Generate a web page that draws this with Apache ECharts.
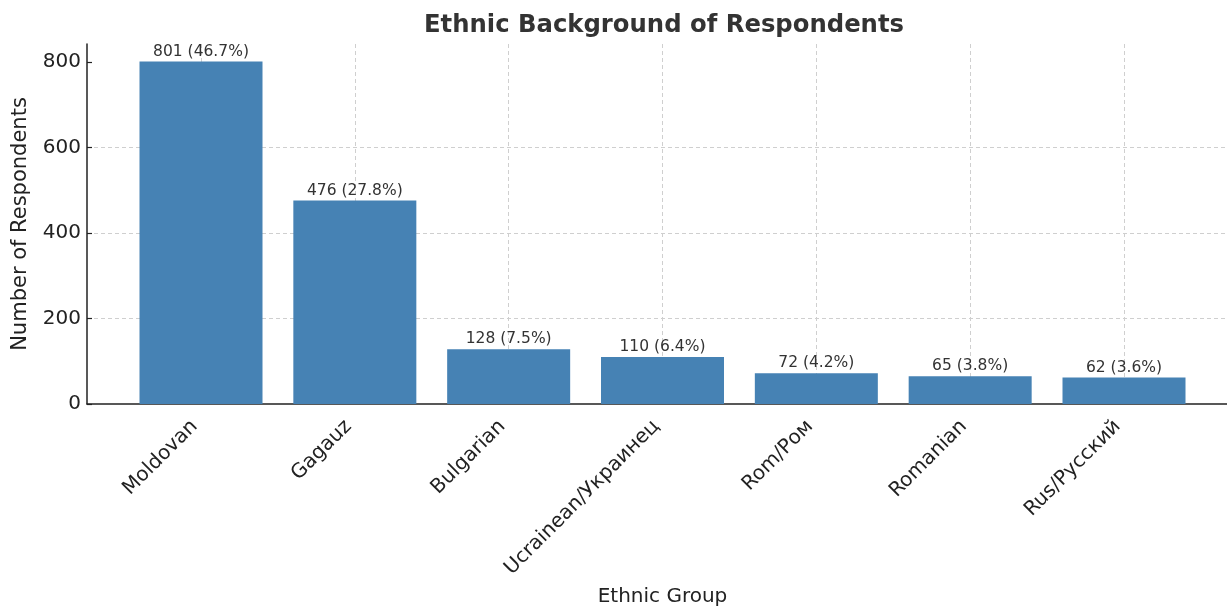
<!DOCTYPE html>
<html><head><meta charset="utf-8">
<script src="https://cdn.jsdelivr.net/npm/echarts@6/dist/echarts.min.js"></script>
<style>html,body{margin:0;padding:0;background:#fff}#c{width:1227px;height:606px}</style>
</head><body><div id="c"></div>
<script>
const categories = ["Moldovan", "Gagauz", "Bulgarian", "Ucrainean/Украинец", "Rom/Ром", "Romanian", "Rus/Русский"];
const counts = [801, 476, 128, 110, 72, 65, 62];
const percents = [46.7, 27.8, 7.5, 6.4, 4.2, 3.8, 3.6];
const yTicks = [0, 200, 400, 600, 800];

const FONT = "DejaVu Sans";
const TOP = 44, BOTTOM = 202;
const yMax = 842;

const chart = echarts.init(document.getElementById('c'), null, {renderer: 'canvas'});
chart.setOption({
  animation: false,
  backgroundColor: '#fff',
  title: {
    text: 'Ethnic Background of Respondents',
    left: 659, top: 9, textAlign: 'center',
    textStyle: {fontFamily: FONT, fontSize: 24.3, fontWeight: 'bold', color: '#333'}
  },
  grid: [
    {left: 201, right: 1227 - 1124, top: TOP, bottom: BOTTOM, containLabel: false, outerBoundsMode: 'none'},
    {left: 87, right: -12, top: TOP, bottom: BOTTOM, containLabel: false, outerBoundsMode: 'none'}
  ],
  xAxis: [
    {
      gridIndex: 0, type: 'value', min: 0, max: categories.length - 1, interval: 1,
      axisLine: {show: false},
      axisTick: {show: true, inside: true, length: 5, lineStyle: {color: '#222', width: 1.2}},
      splitLine: {show: true, lineStyle: {type: [4, 3], color: '#cfcfcf', width: 1}},
      axisLabel: {
        rotate: 45, margin: 13, padding: [0, 9, 0, 0], fontFamily: FONT, fontSize: 20, color: '#222',
        formatter: v => categories[v] || ''
      },
      name: 'Ethnic Group', nameLocation: 'middle', nameGap: 183,
      nameTextStyle: {fontFamily: FONT, fontSize: 20, color: '#222'}
    },
    {
      gridIndex: 1, type: 'value', min: 0, max: 1,
      axisLine: {show: true, onZero: false, lineStyle: {color: '#222', width: 1.5}},
      axisTick: {show: false}, axisLabel: {show: false}, splitLine: {show: false}
    }
  ],
  yAxis: [
    {
      gridIndex: 0, type: 'value', min: 0, max: yMax, show: false
    },
    {
      gridIndex: 1, type: 'value', min: 0, max: yMax, interval: 200,
      axisLine: {show: true, lineStyle: {color: '#222', width: 1.5}},
      axisTick: {show: true, inside: true, length: 5, customValues: yTicks, lineStyle: {color: '#222', width: 1.2}},
      axisLabel: {customValues: yTicks, fontFamily: FONT, fontSize: 20, color: '#222', margin: 6},
      splitLine: {show: true, showMinLine: false, showMaxLine: false, lineStyle: {type: [4, 3], color: '#cfcfcf', width: 1}},
      name: 'Number of Respondents', nameLocation: 'middle', nameGap: 56,
      nameTextStyle: {fontFamily: FONT, fontSize: 21, color: '#222'}
    }
  ],
  series: [{
    type: 'bar',
    xAxisIndex: 0, yAxisIndex: 0,
    clip: false,
    barWidth: 123,
    data: counts.map((v, i) => [i, v]),
    itemStyle: {color: '#4682B4'},
    z: 1,
    label: {
      show: true, position: 'top', distance: 2,
      fontFamily: FONT, fontSize: 15.5, color: '#333',
      formatter: p => counts[p.dataIndex] + ' (' + percents[p.dataIndex].toFixed(1) + '%)'
    }
  }]
});
</script></body></html>
